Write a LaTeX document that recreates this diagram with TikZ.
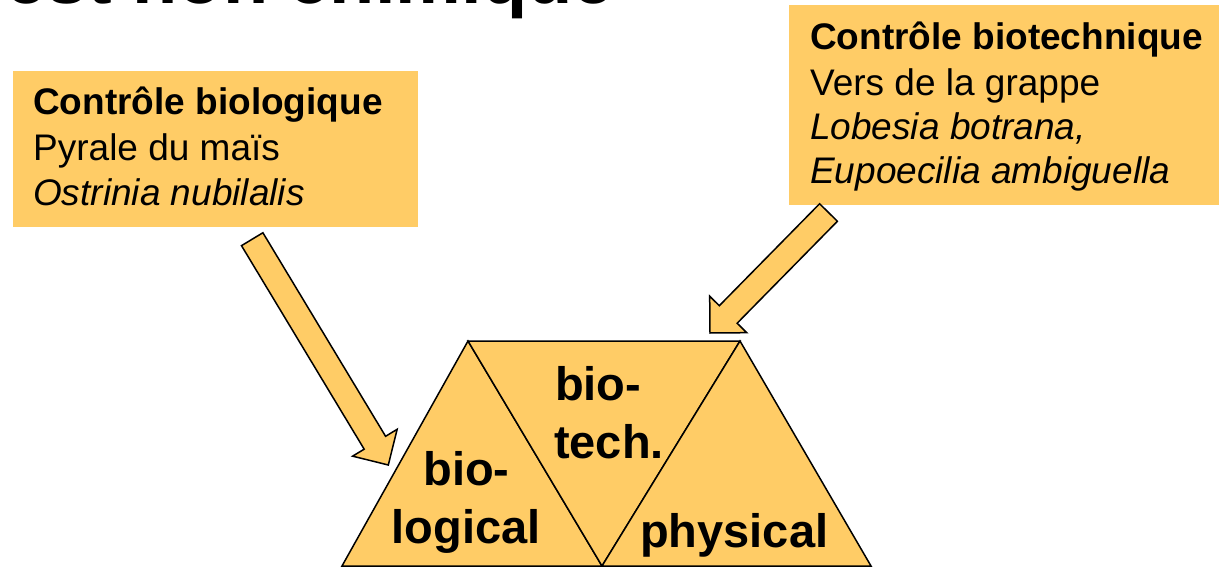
\documentclass[tikz,border=0pt]{standalone}
\usepackage{fontspec}
\setmainfont{Liberation Sans}
\usetikzlibrary{calc}
\definecolor{panel}{HTML}{FFCC66}
\begin{document}
\begin{tikzpicture}[x=1pt,y=-1pt,
  panelbox/.style={fill=panel,draw=none,inner sep=0pt,anchor=north west},
  txt/.style={inner sep=0pt,font=\fontsize{37}{44}\selectfont},
  tritxt/.style={inner sep=0pt,font=\fontsize{47}{56}\selectfont\bfseries},
  tri/.style={fill=panel,draw=black,line width=1.5pt,line join=miter},
  fatarrow/.style={fill=panel,draw=black,line width=1.5pt,line join=miter}]
\useasboundingbox (0,0) rectangle (1219,567);
\clip (0,0) rectangle (1219,567);

% heading, only its lower edge falls inside the page
\node[inner sep=0pt,anchor=base west,font=\fontsize{74}{80}\selectfont\bfseries]
  (title) at (5,4) {est non chimique};

% the two text panels
\node[panelbox,minimum width=405pt,minimum height=156pt] (lbox) at (13,71) {};
\node[panelbox,minimum width=430pt,minimum height=200pt] (rbox) at (789,5) {};

\node[txt,anchor=base west] (l1) at (33,115) {\bfseries Contrôle biologique};
\node[txt,anchor=base west] (l2) at (33,160.5) {Pyrale du maïs};
\node[txt,anchor=base west] (l3) at (33,206) {\itshape Ostrinia nubilalis};

\node[txt,anchor=base west] (r1) at (810,50) {\bfseries Contrôle biotechnique};
\node[txt,anchor=base west] (r2) at (810,95.2) {Vers de la grappe};
\node[txt,anchor=base west] (r3) at (810,139.5) {\itshape Lobesia botrana,};
\node[txt,anchor=base west] (r4) at (810,184) {\itshape Eupoecilia ambiguella};

% the three triangles
\coordinate (A) at (342,566);
\coordinate (B) at (602,566);
\coordinate (C) at (871,566);
\coordinate (P) at (468,341);
\coordinate (Q) at (740,341);
\filldraw[tri] (A) -- (P) -- (B) -- cycle;
\filldraw[tri] (P) -- (Q) -- (B) -- cycle;
\filldraw[tri] (B) -- (Q) -- (C) -- cycle;

\node[tritxt,anchor=base] (bio1) at (466.5,485) {bio-};
\node[tritxt,anchor=base] (bio2) at (466,543) {logical};
\node[tritxt,anchor=base west] (tech1) at (555,400) {bio-};
\node[tritxt,anchor=base west] (tech2) at (554,458) {tech.};
\node[tritxt,anchor=base west] (phys) at (640,547) {physical};

% block arrows from the panels to the triangles
\coordinate (lt) at (252.2,239.2);
\coordinate (lh) at (388.3,465);
\coordinate (rt) at (828.5,212.5);
\coordinate (rh) at (710,333);
\foreach \a in {l,r}{
  \coordinate (\a n) at ($(\a h)!26pt!(\a t)$);
  \filldraw[fatarrow]
    ($(\a t)!12.5pt!90:(\a h)$) -- ($(\a n)!12.5pt!90:(\a h)$) --
    ($(\a n)!26pt!90:(\a h)$) -- (\a h) --
    ($(\a n)!26pt!-90:(\a h)$) -- ($(\a n)!12.5pt!-90:(\a h)$) --
    ($(\a t)!12.5pt!-90:(\a h)$) -- cycle;
}
\end{tikzpicture}
\end{document}
